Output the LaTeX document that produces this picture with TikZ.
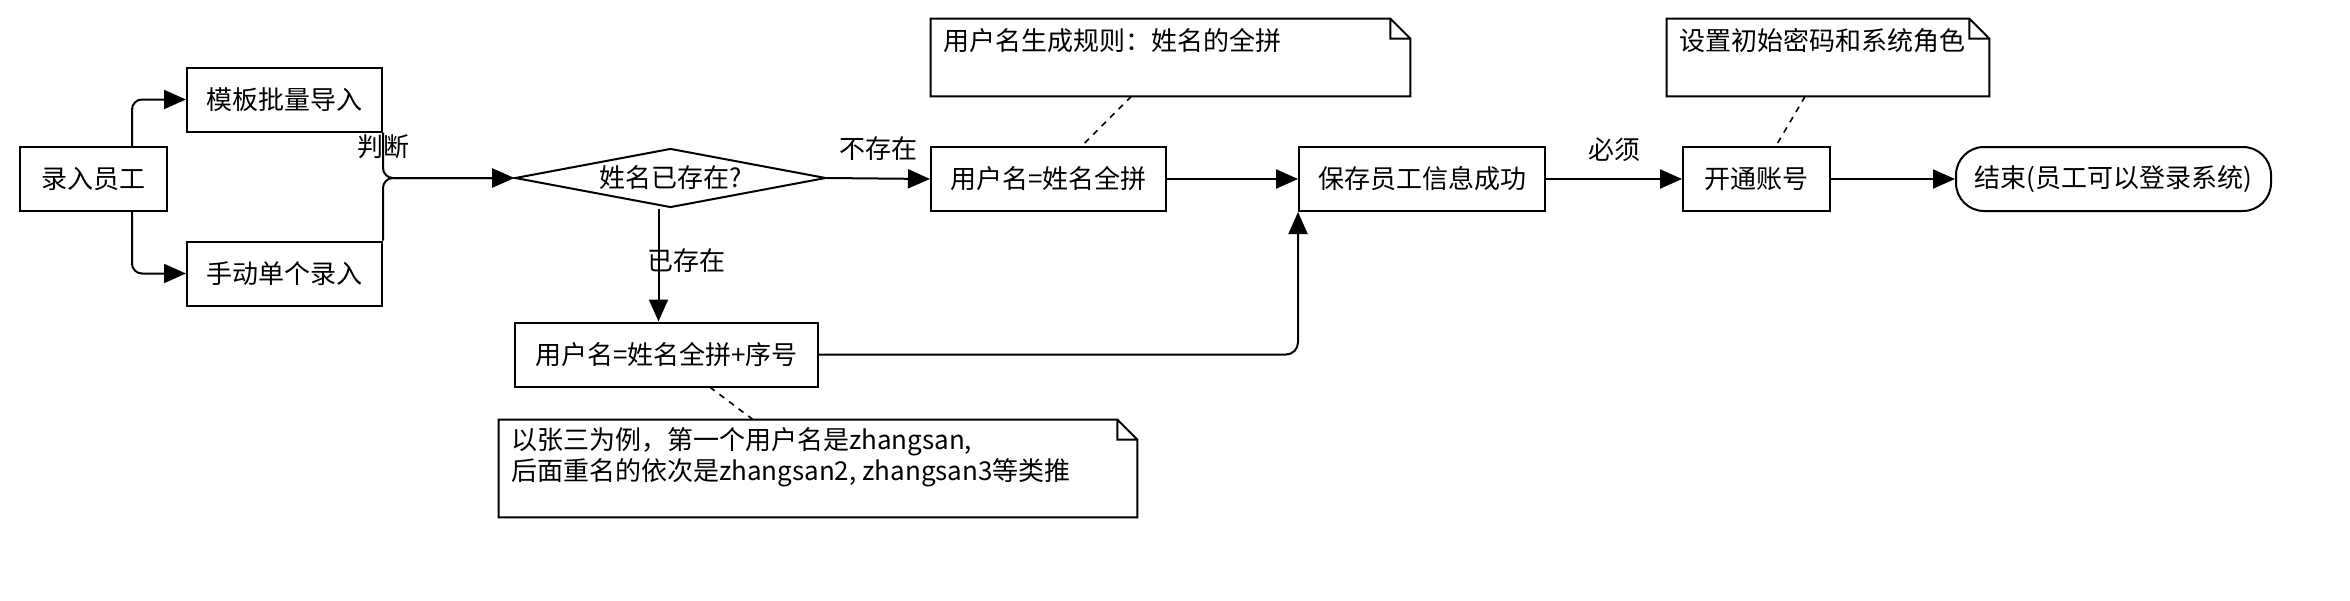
\documentclass[tikz,border=0pt]{standalone}
\usepackage{fontspec}
\setmainfont{Noto Sans CJK SC}
\usetikzlibrary{arrows.meta,shapes.geometric}

\begin{document}
\begin{tikzpicture}[x=0.5pt,y=-0.5pt,
  font=\fontsize{13pt}{15pt}\selectfont,
  box/.style={draw,line width=1pt,minimum height=32pt,inner sep=0pt},
  flow/.style={-{Triangle[length=11pt,width=9.5pt]},line width=1pt},
  link/.style={line width=0.8pt,dash pattern=on 3pt off 3pt},
  notebox/.style={minimum height=38.5pt,inner sep=0pt},
  notetext/.style={anchor=north west,inner xsep=6pt,inner ysep=4.5pt,align=left}]
\useasboundingbox (0,0) rectangle (2350,600);

% Entry and the two ways of importing
\node[box,minimum width=73.5pt] (entry) at (93,179) {录入员工};
\node[box,minimum width=97.5pt] (batch) at (284.5,99.5) {模板批量导入};
\node[box,minimum width=97.5pt] (single) at (284.5,273.5) {手动单个录入};

% Name check
\node[draw,line width=1pt,diamond,aspect=5.3,inner sep=0pt,
  minimum width=155.5pt,minimum height=29.5pt] (check) at (670.5,178) {姓名已存在?};

% Username and the rest of the flow
\node[box,minimum width=117.5pt] (plain) at (1048.5,179) {用户名=姓名全拼};
\node[box,minimum width=151.5pt] (serial) at (666.5,354.5) {用户名=姓名全拼+序号};
\node[box,minimum width=123pt] (save) at (1422,179) {保存员工信息成功};
\node[box,minimum width=73.5pt] (account) at (1756.5,179) {开通账号};
\node[box,rounded corners=14pt,minimum width=157.5pt] (finish) at (2113.5,179) {结束(员工可以登录系统)};

% Notes with folded corner
\node[notebox,minimum width=239.5pt] (rulenote) at (1170.5,57.5) {};
\node[notebox,minimum width=161pt] (pwdnote) at (1828,57.5) {};
\node[notebox,minimum width=319pt,minimum height=48.5pt] (seqnote) at (818,468.5) {};
\foreach \n in {rulenote,pwdnote,seqnote}
  \draw[line width=1pt] (\n.north west) -- ([xshift=-10pt]\n.north east)
    -- ([yshift=-10pt]\n.north east) -- (\n.south east) -- (\n.south west) -- cycle
    ([xshift=-10pt]\n.north east) |- ([yshift=-10pt]\n.north east);
\node[notetext] (ruletext) at (rulenote.north west) {用户名生成规则：姓名的全拼};
\node[notetext] (pwdtext) at (pwdnote.north west) {设置初始密码和系统角色};
\node[notetext,inner ysep=4pt,font=\fontsize{13pt}{12.5pt}\selectfont] (seqtext) at (seqnote.north west)
  {以张三为例，第一个用户名是zhangsan,\\后面重名的依次是zhangsan2, zhangsan3等类推};

% Connectors
\draw[flow,rounded corners=5pt] ([xshift=19.5pt]entry.north) |- (batch.west);
\draw[flow,rounded corners=5pt] ([xshift=19.5pt]entry.south) |- (single.west);
\draw[flow,rounded corners=5pt] (batch.south east) |- node[pos=0.16] {判断} (check.west);
\draw[flow,rounded corners=5pt] (single.north east) |- (check.west);
\draw[flow] (check.east) -- node[above=5pt] {不存在} (plain.west);
\draw[flow] ([xshift=-6pt]check.south) -- node[pos=0.46,xshift=14pt] {已存在} ([xshift=-4pt]serial.north);
\draw[flow] (plain.east) -- (save.west);
\draw[flow,rounded corners=6pt] (serial.east) -| (save.south west);
\draw[flow] (save.east) -- node[above=5pt] {必须} (account.west);
\draw[flow] (account.east) -- (finish.west);

% Notes attached to their steps
\draw[link] (rulenote) -- (plain);
\draw[link] (pwdnote) -- (account);
\draw[link] (seqnote) -- (serial);
\end{tikzpicture}
\end{document}
